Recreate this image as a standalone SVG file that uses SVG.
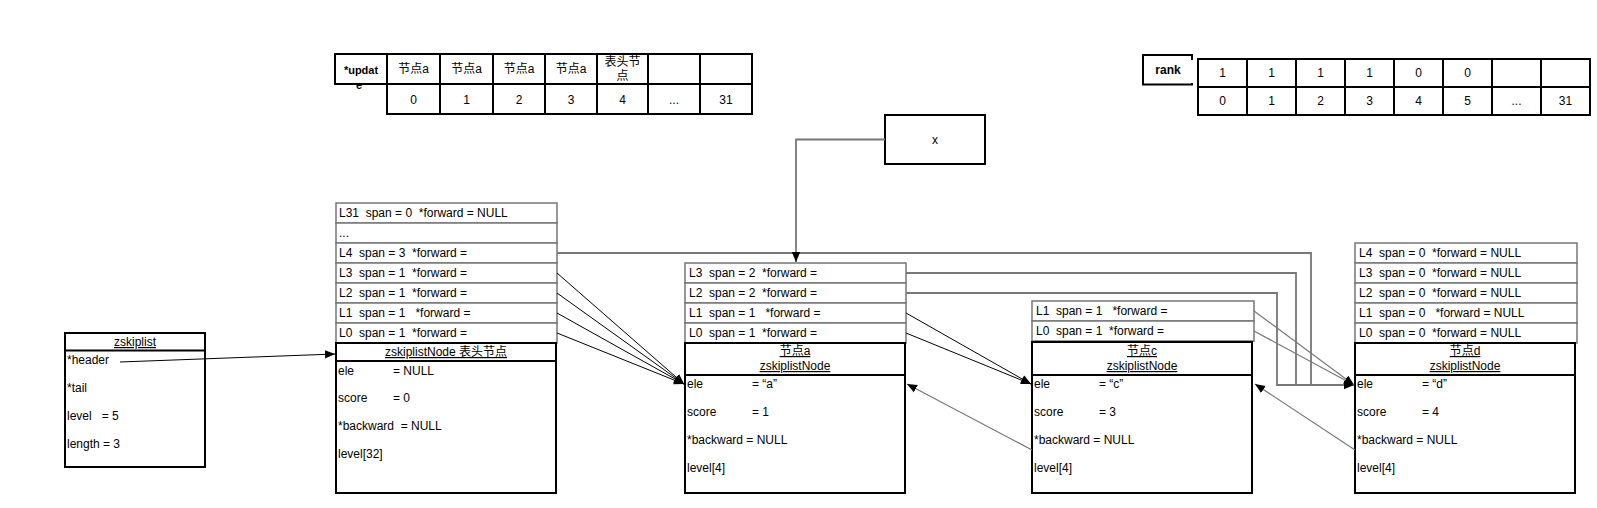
<svg xmlns="http://www.w3.org/2000/svg" width="1597" height="508" viewBox="0 0 1597 508">
<style>
text{font-family:"Liberation Sans","Noto Sans CJK SC",sans-serif;font-size:12px;fill:#000}
.b{font-weight:bold}
.c{text-anchor:middle}
.u{text-decoration:underline}
.box{fill:#fff;stroke:#000;stroke-width:2}
.row{fill:#fff;stroke:#777;stroke-width:1.5}
.grid{fill:none;stroke:#000;stroke-width:2}
.thin{fill:none;stroke:#000;stroke-width:1;marker-end:url(#ah)}
.gthin{fill:none;stroke:#777;stroke-width:1.2;marker-end:url(#ah)}
.route{fill:none;stroke:#777;stroke-width:1.8}
.routeA{fill:none;stroke:#777;stroke-width:1.8;marker-end:url(#ah)}
</style>
<defs>
<marker id="ah" markerUnits="userSpaceOnUse" markerWidth="10" markerHeight="10" viewBox="0 0 10 10" refX="10" refY="5" orient="auto">
<path d="M0,0.8 L10,5 L0,9.2 Z" fill="#000"/>
</marker>
</defs>
<rect width="1597" height="508" fill="#fff"/>

<g id="update-table">
<rect class="box" x="335" y="54" width="52" height="30"/>
<text class="b c" x="361" y="74" style="font-size:11px">*updat</text>
<text class="b c" x="359" y="89" style="font-size:11px">e</text>
<path class="grid" d="M387,54 H752 V114 H387 Z M387,84 H752 M440,54 V114 M493,54 V114 M545,54 V114 M597,54 V114 M648,54 V114 M700,54 V114"/>
<text class="c" x="413.5" y="73">节点a</text>
<text class="c" x="466.5" y="73">节点a</text>
<text class="c" x="519" y="73">节点a</text>
<text class="c" x="571" y="73">节点a</text>
<text class="c" x="622.5" y="66">表头节</text>
<text class="c" x="622.5" y="80">点</text>
<text class="c" x="413.5" y="103.5">0</text>
<text class="c" x="466.5" y="103.5">1</text>
<text class="c" x="519" y="103.5">2</text>
<text class="c" x="571" y="103.5">3</text>
<text class="c" x="622.5" y="103.5">4</text>
<text class="c" x="674" y="103.5" fill="#666">...</text>
<text class="c" x="726" y="103.5">31</text>
</g>

<g id="rank-table">
<path class="box" fill="none" d="M1192,60 V55 H1143 V84.5 H1192 V83"/>
<text class="b c" x="1168" y="73.5">rank</text>
<path class="grid" stroke="#222" d="M1198,59 H1590 V115 H1198 Z M1198,87 H1590 M1247,59 V115 M1296,59 V115 M1345,59 V115 M1394,59 V115 M1443,59 V115 M1492,59 V115 M1541,59 V115"/>
<text class="c" x="1222.5" y="77">1</text>
<text class="c" x="1271.5" y="77">1</text>
<text class="c" x="1320.5" y="77">1</text>
<text class="c" x="1369.5" y="77">1</text>
<text class="c" x="1418.5" y="77">0</text>
<text class="c" x="1467.5" y="77">0</text>
<text class="c" x="1222.5" y="105">0</text>
<text class="c" x="1271.5" y="105">1</text>
<text class="c" x="1320.5" y="105">2</text>
<text class="c" x="1369.5" y="105">3</text>
<text class="c" x="1418.5" y="105">4</text>
<text class="c" x="1467.5" y="105">5</text>
<text class="c" x="1516.5" y="105" fill="#666">...</text>
<text class="c" x="1565.5" y="105">31</text>
</g>

<g id="x-node">
<rect class="box" x="885" y="115" width="100" height="49"/>
<text class="c" x="935" y="144">x</text>
</g>

<g id="zskiplist">
<rect class="box" x="65" y="333" width="140" height="134"/>
<line x1="65" y1="350.5" x2="205" y2="350.5" stroke="#000" stroke-width="2"/>
<text class="c u" x="135" y="346">zskiplist</text>
<text x="67" y="364">*header</text>
<text x="67" y="392">*tail</text>
<text x="67" y="420" xml:space="preserve">level   = 5</text>
<text x="67" y="448">length = 3</text>
</g>

<g id="header-node">
<rect class="row" x="336" y="203" width="221" height="20"/>
<rect class="row" x="336" y="223" width="221" height="20"/>
<rect class="row" x="336" y="243" width="221" height="20"/>
<rect class="row" x="336" y="263" width="221" height="20"/>
<rect class="row" x="336" y="283" width="221" height="20"/>
<rect class="row" x="336" y="303" width="221" height="20"/>
<rect class="row" x="336" y="323" width="221" height="20"/>
<text x="339" y="217" xml:space="preserve">L31  span = 0  *forward = NULL</text>
<text x="339" y="237">...</text>
<text x="339" y="257" xml:space="preserve">L4  span = 3  *forward =</text>
<text x="339" y="277" xml:space="preserve">L3  span = 1  *forward =</text>
<text x="339" y="297" xml:space="preserve">L2  span = 1  *forward =</text>
<text x="339" y="317" xml:space="preserve">L1  span = 1   *forward =</text>
<text x="339" y="337" xml:space="preserve">L0  span = 1  *forward =</text>
<rect class="box" x="336" y="343" width="220" height="150"/>
<line x1="336" y1="361" x2="556" y2="361" stroke="#000" stroke-width="2"/>
<text class="c u" x="446" y="356">zskiplistNode 表头节点</text>
<text x="338" y="374.5">ele</text>
<text x="393" y="374.5">= NULL</text>
<text x="338" y="402">score</text>
<text x="393" y="402">= 0</text>
<text x="338" y="430" xml:space="preserve">*backward  = NULL</text>
<text x="338" y="458">level[32]</text>
</g>

<g id="node-a">
<rect class="row" x="685" y="263" width="221" height="20"/>
<rect class="row" x="685" y="283" width="221" height="20"/>
<rect class="row" x="685" y="303" width="221" height="20"/>
<rect class="row" x="685" y="323" width="221" height="20"/>
<text x="689" y="277" xml:space="preserve">L3  span = 2  *forward =</text>
<text x="689" y="297" xml:space="preserve">L2  span = 2  *forward =</text>
<text x="689" y="317" xml:space="preserve">L1  span = 1   *forward =</text>
<text x="689" y="337" xml:space="preserve">L0  span = 1  *forward =</text>
<rect class="box" x="685" y="343" width="220" height="150"/>
<line x1="685" y1="375" x2="905" y2="375" stroke="#000" stroke-width="2"/>
<text class="c u" x="795" y="355">节点a</text>
<text class="c u" x="795" y="370">zskiplistNode</text>
<text x="687" y="388">ele</text>
<text x="752" y="388">= “a”</text>
<text x="687" y="416">score</text>
<text x="752" y="416">= 1</text>
<text x="687" y="444">*backward = NULL</text>
<text x="687" y="471.5">level[4]</text>
</g>

<g id="node-c">
<rect class="row" x="1032" y="301" width="222" height="20"/>
<rect class="row" x="1032" y="321" width="222" height="20"/>
<text x="1036" y="315" xml:space="preserve">L1  span = 1   *forward =</text>
<text x="1036" y="335" xml:space="preserve">L0  span = 1  *forward =</text>
<rect class="box" x="1032" y="342" width="220" height="151"/>
<line x1="1032" y1="375" x2="1252" y2="375" stroke="#000" stroke-width="2"/>
<text class="c u" x="1142" y="355">节点c</text>
<text class="c u" x="1142" y="370">zskiplistNode</text>
<text x="1034" y="388">ele</text>
<text x="1099" y="388">= “c”</text>
<text x="1034" y="416">score</text>
<text x="1099" y="416">= 3</text>
<text x="1034" y="444">*backward = NULL</text>
<text x="1034" y="471.5">level[4]</text>
</g>

<g id="node-d">
<rect class="row" x="1355" y="243" width="222" height="20"/>
<rect class="row" x="1355" y="263" width="222" height="20"/>
<rect class="row" x="1355" y="283" width="222" height="20"/>
<rect class="row" x="1355" y="303" width="222" height="20"/>
<rect class="row" x="1355" y="323" width="222" height="20"/>
<text x="1359" y="257" xml:space="preserve">L4  span = 0  *forward = NULL</text>
<text x="1359" y="277" xml:space="preserve">L3  span = 0  *forward = NULL</text>
<text x="1359" y="297" xml:space="preserve">L2  span = 0  *forward = NULL</text>
<text x="1359" y="317" xml:space="preserve">L1  span = 0   *forward = NULL</text>
<text x="1359" y="337" xml:space="preserve">L0  span = 0  *forward = NULL</text>
<rect class="box" x="1355" y="343" width="220" height="150"/>
<line x1="1355" y1="375" x2="1575" y2="375" stroke="#000" stroke-width="2"/>
<text class="c u" x="1465" y="355">节点d</text>
<text class="c u" x="1465" y="370">zskiplistNode</text>
<text x="1357" y="388">ele</text>
<text x="1422" y="388">= “d”</text>
<text x="1357" y="416">score</text>
<text x="1422" y="416">= 4</text>
<text x="1357" y="444">*backward = NULL</text>
<text x="1357" y="471.5">level[4]</text>
</g>

<g id="connectors">
<path class="thin" d="M120,362 L335,354"/>
<path class="thin" d="M557,273 L684,384"/>
<path class="thin" d="M557,293 L684,384"/>
<path class="thin" d="M557,313 L684,384"/>
<path class="thin" d="M557,333 L684,384"/>
<path class="thin" d="M906,313 L1031,384"/>
<path class="thin" d="M906,333 L1031,384"/>
<path class="gthin" d="M1254,311 L1354,385"/>
<path class="gthin" d="M1254,331 L1354,385"/>
<path class="route" d="M557,253 H1311 V385"/>
<path class="route" d="M906,273 H1296 V385"/>
<path class="routeA" d="M906,293 H1277 V385 H1354"/>
<path class="routeA" d="M885,139.5 H796 V262"/>
<path class="gthin" d="M1032,450 L907,384"/>
<path class="gthin" d="M1355,450 L1255,384"/>
</g>
</svg>
